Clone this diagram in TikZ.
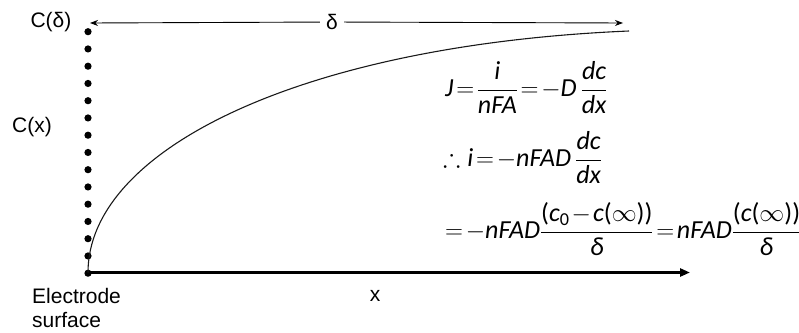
\documentclass[tikz,border=0pt]{standalone}
\usepackage{amsmath,amssymb}
\usepackage{fontspec}
\setmainfont{Liberation Sans}
\newfontfamily\eqfont{Carlito}
\usetikzlibrary{arrows.meta,positioning}
\newcommand{\mv}[1]{\textit{#1}}
\newcommand{\pl}{\textup{(}}
\newcommand{\pr}{\textup{)}}
\tikzset{
  lab/.style={font=\fontsize{21}{24}\selectfont,inner sep=0pt},
  eq/.style={font=\fontsize{26}{29}\selectfont\eqfont,inner sep=0pt,anchor=west},
  dot/.style={fill=black}
}

\begin{document}
\begin{tikzpicture}[x=1pt,y=-1pt]
  \useasboundingbox (0,0) rectangle (799,332);
  \thickmuskip=2mu \medmuskip=1.5mu \nulldelimiterspace=1pt

  % Points
  \coordinate (origin) at (88,272.5);
  \coordinate (xend) at (690,272.5);
  \coordinate (cend) at (629,31);
  \coordinate (dleft) at (90,23);
  \coordinate (dright) at (623,23);

  % Surface concentration dots
  \foreach \i in {0,...,14} {
    \fill[dot] (88,31.7+17.25*\i) circle (3.6);
  }

  % Labels
  \node[lab] (cdelta) at (51,22) {C(δ)};
  \node[lab] (cx) at (32,127) {C(x)};
  \node[lab] (xlab) at (375,296) {x};
  \node[lab,align=left,anchor=north west] (surf) at (32,288) {Electrode\\surface};
  \node[lab,fill=white,inner xsep=6pt] (dlab) at (332,22) {δ};

  % Diffusion layer thickness
  \draw[-{Stealth[length=8pt,width=6pt]},line width=0.9pt] (dlab) -- (dleft);
  \draw[-{Stealth[length=8pt,width=6pt]},line width=0.9pt] (dlab) -- (dright);

  % Distance axis
  \draw[-{Triangle[length=10pt,width=8pt]},line width=3pt] (origin) -- (xend);

  % Concentration profile
  \draw[line width=1.1pt,black!90] (origin) .. controls (88,150) and (300,45) .. (cend);

  % Equations
  \node[eq] (eqa) at (445,88) {$\displaystyle \mv{J}=\frac{\mv{i}}{\mv{nFA}}=-\mv{D}\,\frac{\mv{dc}}{\mv{dx}}$};
  \node[eq] (eqb) at (443,158) {$\displaystyle \therefore\, \mv{i}=-\mv{nFAD}\,\frac{\mv{dc}}{\mv{dx}}$};
  \node[eq] (eqc) at (445,229) {$\displaystyle =-\mv{nFAD}\frac{\pl\mv{c}_{\textup{0}}-\mv{c}\pl\infty\pr\pr}{\mv{δ}}=\mv{nFAD}\frac{\pl\mv{c}\pl\infty\pr\pr}{\mv{δ}}$};
\end{tikzpicture}
\end{document}
